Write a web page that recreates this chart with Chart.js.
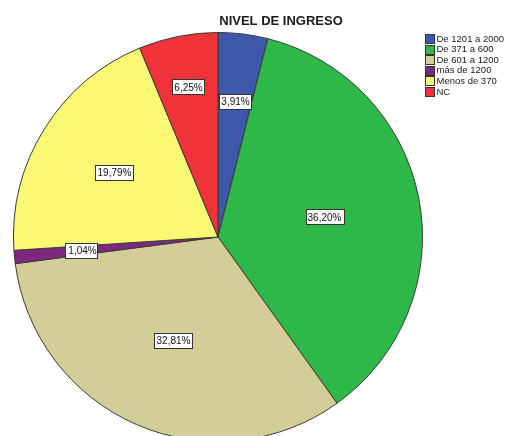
<!DOCTYPE html>
<html>
<head>
<meta charset="utf-8">
<script src="https://cdn.jsdelivr.net/npm/chart.js@4.4.1/dist/chart.umd.min.js"></script>
<style>
  html, body { margin: 0; padding: 0; background: #fff; overflow: hidden; }
  #wrap { width: 505px; height: 450px; }
</style>
</head>
<body>
<div id="wrap"><canvas id="pie" width="505" height="450"></canvas></div>
<script>
// categories, in the drawing order (clockwise from the top)
var categorias = ["De 1201 a 2000", "De 371 a 600", "De 601 a 1200", "más de 1200", "Menos de 370", "NC"];
// percent of each group
var porcentajes = [3.91, 36.20, 32.81, 1.04, 19.79, 6.25];
var colores = ["#3E58AC", "#2EB848", "#D3CE97", "#7C287D", "#FBF873", "#EF3338"];
// how far out the percent boxes sit (fraction of the radius)
var labelRadio = [0.67, 0.53, 0.55, 0.67, 0.60, 0.75];

var FONT = '"Liberation Sans", Arial, sans-serif';

// title + legend + percent boxes, drawn by hand like the SPSS output
var spssDeco = {
	id: 'spssDeco',
	afterDatasetsDraw: function(chart) {
		var ctx = chart.ctx;
		var meta = chart.getDatasetMeta(0);
		ctx.save();
		ctx.font = '10px ' + FONT;
		ctx.textAlign = 'center';
		ctx.textBaseline = 'middle';
		meta.data.forEach(function(arc, i) {
			var p = arc.getProps(['x', 'y', 'startAngle', 'endAngle', 'outerRadius'], true);
			var mid = (p.startAngle + p.endAngle) / 2;
			var r = p.outerRadius * labelRadio[i];
			var x = p.x + Math.cos(mid) * r;
			var y = p.y + Math.sin(mid) * r;
			var txt = porcentajes[i].toFixed(2).replace('.', ',') + '%';
			var w = ctx.measureText(txt).width + 4;
			var h = 15;
			ctx.fillStyle = '#fff';
			ctx.fillRect(Math.round(x - w / 2) + 0.5, Math.round(y - h / 2) + 0.5, Math.round(w), h);
			ctx.strokeStyle = '#333';
			ctx.lineWidth = 1;
			ctx.strokeRect(Math.round(x - w / 2) + 0.5, Math.round(y - h / 2) + 0.5, Math.round(w), h);
			ctx.fillStyle = '#111';
			ctx.fillText(txt, Math.round(x) + 0.5, Math.round(y) + 1);
		});

		// title
		ctx.font = 'bold 13px ' + FONT;
		ctx.fillStyle = '#1a1a1a';
		ctx.textAlign = 'center';
		ctx.textBaseline = 'alphabetic';
		ctx.fillText('NIVEL DE INGRESO', 281, 25);

		// legend
		ctx.font = '9.5px ' + FONT;
		ctx.textAlign = 'left';
		ctx.textBaseline = 'middle';
		chart.data.labels.forEach(function(lab, i) {
			var cy = 38.5 + i * 10.6;
			ctx.fillStyle = colores[i];
			ctx.fillRect(425.5, Math.round(cy - 4.5) + 0.5, 9, 9);
			ctx.strokeStyle = '#333';
			ctx.strokeRect(425.5, Math.round(cy - 4.5) + 0.5, 9, 9);
			ctx.fillStyle = '#1a1a1a';
			ctx.fillText(lab, 436.5, cy + 0.5);
		});
		ctx.restore();
	}
};

new Chart(document.getElementById('pie'), {
	type: 'pie',
	data: {
		labels: categorias,
		datasets: [{
			data: porcentajes,
			backgroundColor: colores,
			borderColor: '#3a3a3a',
			borderWidth: 1
		}]
	},
	options: {
		responsive: false,
		animation: false,
		layout: { padding: { left: 13, right: 82, top: 32, bottom: 8 } },
		plugins: {
			legend: { display: false },
			title: { display: false },
			tooltip: { enabled: false }
		}
	},
	plugins: [spssDeco]
});
</script>
</body>
</html>
